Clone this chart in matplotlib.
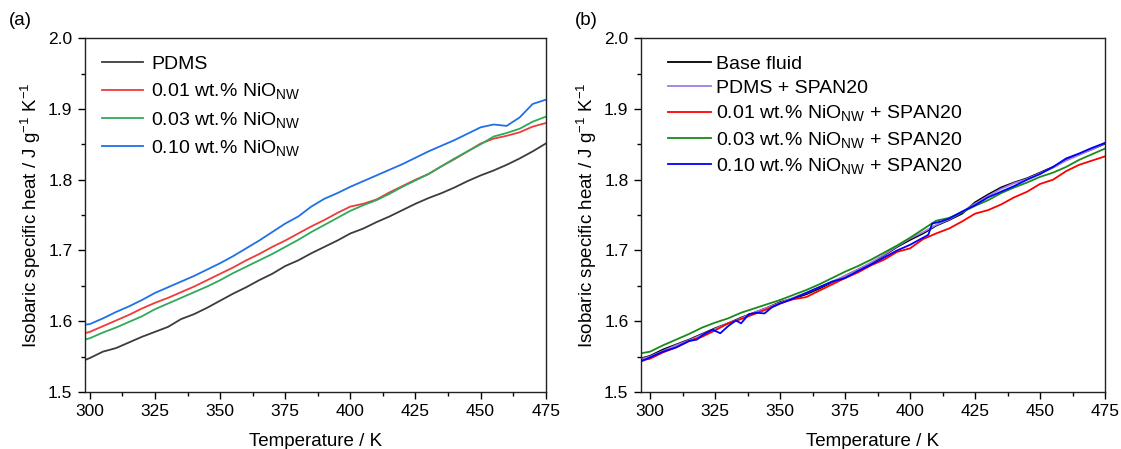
import numpy as np
import matplotlib
matplotlib.use('Agg')
import matplotlib.pyplot as plt
from matplotlib.ticker import MultipleLocator

plt.rcParams['font.family'] = ['Liberation Sans', 'DejaVu Sans']
plt.rcParams['mathtext.fontset'] = 'custom'
plt.rcParams['mathtext.rm'] = 'Liberation Sans'
plt.rcParams['mathtext.it'] = 'Liberation Sans:italic'
plt.rcParams['mathtext.bf'] = 'Liberation Sans:bold'

# ---- panel (a) data ----
T_a = [298, 300, 305, 310, 315, 320, 325, 330, 335, 340, 345, 350, 355, 360, 365,
       370, 375, 380, 385, 390, 395, 400, 405, 410, 415, 420, 425, 430, 435, 440,
       445, 450, 455, 460, 465, 470, 475]
pdms = [1.545, 1.548, 1.557, 1.562, 1.570, 1.578, 1.585, 1.592, 1.603, 1.610, 1.619,
        1.629, 1.639, 1.648, 1.658, 1.667, 1.678, 1.686, 1.696, 1.705, 1.714, 1.724,
        1.731, 1.740, 1.748, 1.757, 1.766, 1.774, 1.781, 1.789, 1.798, 1.806, 1.813,
        1.821, 1.830, 1.840, 1.851]
nio_001 = [1.583, 1.585, 1.593, 1.601, 1.609, 1.618, 1.626, 1.633, 1.641, 1.649, 1.658,
           1.667, 1.676, 1.686, 1.695, 1.705, 1.714, 1.724, 1.734, 1.743, 1.753, 1.762,
           1.766, 1.772, 1.782, 1.791, 1.800, 1.808, 1.819, 1.829, 1.840, 1.851, 1.858,
           1.862, 1.867, 1.875, 1.880]
nio_003 = [1.574, 1.576, 1.584, 1.591, 1.599, 1.607, 1.617, 1.625, 1.633, 1.641, 1.649,
           1.658, 1.668, 1.677, 1.686, 1.695, 1.705, 1.715, 1.726, 1.736, 1.746, 1.756,
           1.764, 1.771, 1.780, 1.790, 1.799, 1.808, 1.819, 1.830, 1.840, 1.850, 1.861,
           1.866, 1.872, 1.882, 1.889]
nio_010 = [1.595, 1.596, 1.604, 1.613, 1.621, 1.630, 1.640, 1.648, 1.656, 1.664, 1.673,
           1.682, 1.692, 1.703, 1.714, 1.726, 1.738, 1.748, 1.762, 1.773, 1.781, 1.790,
           1.798, 1.806, 1.814, 1.822, 1.831, 1.840, 1.848, 1.856, 1.865, 1.874, 1.878,
           1.876, 1.888, 1.907, 1.913]

# ---- panel (b) data ----
T_b = [297, 300, 305, 310, 315, 320, 325, 330, 335, 340, 345, 350, 355, 360, 365,
       370, 375, 380, 385, 390, 395, 400, 405, 410, 415, 420, 425, 430, 435, 440,
       445, 450, 455, 460, 465, 470, 475]
base = [1.548, 1.551, 1.560, 1.567, 1.574, 1.582, 1.590, 1.597, 1.605, 1.612, 1.619,
        1.627, 1.632, 1.638, 1.646, 1.655, 1.664, 1.673, 1.682, 1.693, 1.705, 1.715,
        1.724, 1.735, 1.743, 1.752, 1.768, 1.779, 1.789, 1.796, 1.802, 1.810, 1.818,
        1.828, 1.836, 1.843, 1.851]
span = [1.547, 1.550, 1.558, 1.566, 1.573, 1.581, 1.589, 1.597, 1.604, 1.612, 1.619,
        1.626, 1.633, 1.640, 1.648, 1.656, 1.664, 1.673, 1.683, 1.694, 1.706, 1.717,
        1.726, 1.736, 1.744, 1.754, 1.766, 1.777, 1.787, 1.795, 1.801, 1.809, 1.817,
        1.827, 1.835, 1.843, 1.852]
span_001 = [1.545, 1.547, 1.556, 1.563, 1.572, 1.578, 1.587, 1.597, 1.603, 1.610, 1.617,
            1.625, 1.631, 1.634, 1.643, 1.652, 1.661, 1.669, 1.679, 1.687, 1.698, 1.703,
            1.716, 1.724, 1.731, 1.741, 1.752, 1.757, 1.765, 1.775, 1.783, 1.794, 1.800,
            1.812, 1.821, 1.827, 1.833]
span_003 = [1.555, 1.557, 1.566, 1.574, 1.582, 1.591, 1.598, 1.604, 1.612, 1.618, 1.624,
            1.630, 1.637, 1.644, 1.652, 1.661, 1.670, 1.678, 1.687, 1.697, 1.707, 1.718,
            1.730, 1.742, 1.746, 1.754, 1.763, 1.771, 1.781, 1.789, 1.796, 1.804, 1.810,
            1.818, 1.828, 1.836, 1.844]
T_b_blue = [296.5, 300, 305, 310, 315, 318, 320, 324, 327, 330, 333, 335, 338, 341, 344,
            347, 350, 355, 360, 365, 370, 375, 380, 385, 390, 395, 400, 405, 407, 408.5,
            412, 415, 420, 425, 430, 435, 440, 445, 450, 455, 460, 465, 470, 475]
span_010 = [1.543, 1.549, 1.557, 1.563, 1.572, 1.574, 1.580, 1.588, 1.583, 1.593, 1.601,
            1.597, 1.610, 1.612, 1.611, 1.620, 1.625, 1.632, 1.640, 1.648, 1.656, 1.661,
            1.671, 1.680, 1.690, 1.700, 1.708, 1.718, 1.722, 1.738, 1.741, 1.745, 1.755,
            1.764, 1.775, 1.783, 1.791, 1.800, 1.808, 1.818, 1.830, 1.837, 1.845, 1.852]

fig = plt.figure(figsize=(11.21, 4.49), dpi=100)
ax1 = fig.add_axes([0.0758, 0.127, 0.411, 0.788])
ax2 = fig.add_axes([0.5718, 0.127, 0.414, 0.788])

sub = '$_{\\mathrm{NW}}$'
ax1.plot(T_a, pdms, color='#3c3c3c', lw=1.3, label='PDMS')
ax1.plot(T_a, nio_001, color='#ee3b3b', lw=1.3, label='0.01 wt.% NiO' + sub)
ax1.plot(T_a, nio_003, color='#2eaa5a', lw=1.3, label='0.03 wt.% NiO' + sub)
ax1.plot(T_a, nio_010, color='#2070e8', lw=1.3, label='0.10 wt.% NiO' + sub)

ax2.plot(T_b, base, color='#000000', lw=1.3, label='Base fluid')
ax2.plot(T_b, span, color='#a07ce8', lw=1.3, label='PDMS + SPAN20')
ax2.plot(T_b, span_001, color='#ff0000', lw=1.3, label='0.01 wt.% NiO' + sub + ' + SPAN20')
ax2.plot(T_b, span_003, color='#1a8a1a', lw=1.3, label='0.03 wt.% NiO' + sub + ' + SPAN20')
ax2.plot(T_b_blue, span_010, color='#0000ff', lw=1.3, label='0.10 wt.% NiO' + sub + ' + SPAN20')

for ax, x0 in ((ax1, 298.1), (ax2, 296.5)):
    ax.set_xlim(x0, 475)
    ax.set_ylim(1.5, 2.0)
    ax.xaxis.set_major_locator(MultipleLocator(25))
    ax.xaxis.set_minor_locator(MultipleLocator(12.5))
    ax.yaxis.set_major_locator(MultipleLocator(0.1))
    ax.yaxis.set_minor_locator(MultipleLocator(0.05))
    ax.yaxis.set_major_formatter(matplotlib.ticker.FormatStrFormatter('%.1f'))
    ax.tick_params(which='major', direction='out', length=5, width=1, labelsize=12.5, pad=4)
    ax.tick_params(which='minor', direction='out', length=3, width=1)
    for s in ax.spines.values():
        s.set_linewidth(1.0)
        s.set_color('#222222')
    ax.set_xlabel('Temperature / K', fontsize=13.5, labelpad=10)
    ax.set_ylabel('Isobaric specific heat / J g$^{-1}$ K$^{-1}$', fontsize=13.5, labelpad=4)

ax1.legend(loc='upper left', frameon=False, fontsize=14, handlelength=2.1,
           handletextpad=0.4, labelspacing=0.42, borderaxespad=0.5,
           bbox_to_anchor=(0.0, 1.0))
ax2.legend(loc='upper left', frameon=False, fontsize=14, handlelength=2.2,
           handletextpad=0.3, labelspacing=0.32, borderaxespad=0.5,
           bbox_to_anchor=(0.02, 1.0))

fig.text(0.008, 0.945, '(a)', fontsize=13.5)
fig.text(0.513, 0.945, '(b)', fontsize=13.5)

fig.savefig('out.png', dpi=100)
